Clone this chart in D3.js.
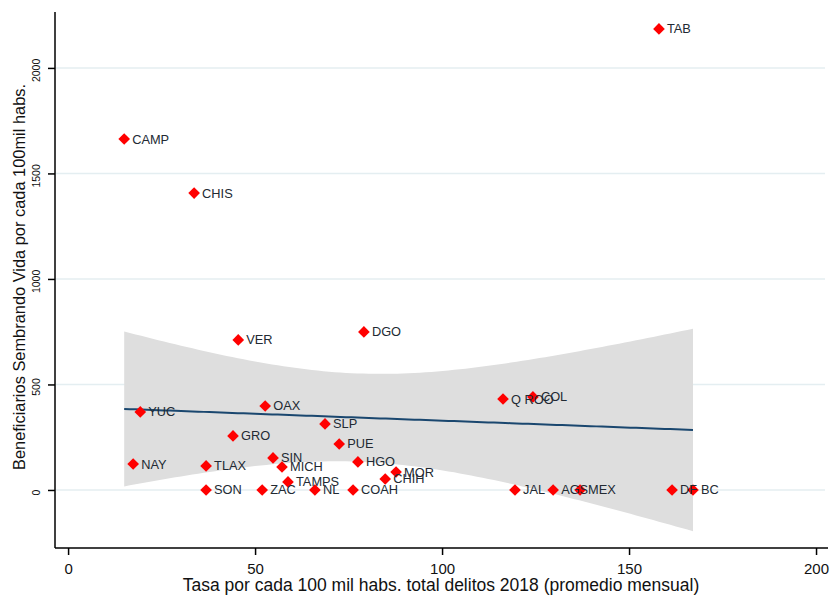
<!DOCTYPE html>
<html>
<head>
<meta charset="utf-8">
<script src="https://cdn.jsdelivr.net/npm/d3@7"></script>
<style>
  html, body { margin: 0; padding: 0; background: #fff; }
  svg { display: block; }
</style>
</head>
<body>
<svg id="chart" width="831" height="596"></svg>
<script>
// State abbreviations
const states = ["TAB","CAMP","CHIS","VER","DGO","OAX","YUC","SLP","GRO","PUE","SIN","NAY","TLAX","MICH","HGO","MOR","CHIH","TAMPS","SON","ZAC","NL","COAH","JAL","AGS","MEX","DF","BC","Q ROO","COL"];
// Crime rate per 100k inhabitants, 2018 monthly average
const delitos = [158.0,15.0,33.7,45.5,79.1,52.7,19.3,68.7,44.1,72.5,54.8,17.4,36.9,57.2,77.5,87.7,84.8,58.8,36.9,51.9,66.0,76.2,119.5,129.7,136.9,161.5,167.1,116.3,124.3];
// Sembrando Vida beneficiaries per 100k inhabitants
const beneficiarios = [2185,1663,1407,711,749,398,370,313,256,218,152,123,114,109,133,85,52,38,0,0,0,0,0,0,0,0,0,431,441];
const xTicks = [0,50,100,150,200];
const yTicks = [0,500,1000,1500,2000];

const svg = d3.select("#chart");
const L = 55, R = 828, T = 12, B = 548;
const x = d3.scaleLinear().domain([-3.5, 203.2]).range([L, R]);
const y = d3.scaleLinear().domain([-275, 2265]).range([B, T]);

// Linear fit with 95% confidence band of the mean prediction
const n = delitos.length;
const xbar = d3.mean(delitos), ybar = d3.mean(beneficiarios);
let sxx = 0, sxy = 0;
for (let i = 0; i < n; i++) { sxx += (delitos[i]-xbar)**2; sxy += (delitos[i]-xbar)*(beneficiarios[i]-ybar); }
const slope = sxy / sxx, intercept = ybar - slope * xbar;
let sse = 0;
for (let i = 0; i < n; i++) sse += (beneficiarios[i] - (intercept + slope*delitos[i]))**2;
const s = Math.sqrt(sse / (n - 2));
const tcrit = 2.0518; // t(0.975, 27)
const [xmin, xmax] = d3.extent(delitos);
const grid = d3.range(0, 101).map(k => xmin + (xmax - xmin) * k / 100);
const band = grid.map(v => {
  const fit = intercept + slope * v;
  const hw = tcrit * s * Math.sqrt(1/n + (v - xbar)**2 / sxx);
  return {x: v, fit, lo: fit - hw, hi: fit + hw};
});

// horizontal gridlines
svg.append("g").selectAll("line").data(yTicks).join("line")
  .attr("x1", L + 1).attr("x2", R - 3)
  .attr("y1", d => y(d)).attr("y2", d => y(d))
  .attr("stroke", "#e4eef1").attr("stroke-width", 1.5);

// confidence band
svg.append("path").datum(band)
  .attr("d", d3.area().x(d => x(d.x)).y0(d => y(d.lo)).y1(d => y(d.hi)))
  .attr("fill", "#dedede");

// fitted line
svg.append("path").datum(band)
  .attr("d", d3.line().x(d => x(d.x)).y(d => y(d.fit)))
  .attr("fill", "none").attr("stroke", "#1a476f").attr("stroke-width", 2);

// points
const pts = states.map((st, i) => ({st, xv: delitos[i], yv: beneficiarios[i]}));
const diamond = d3.symbol().type(d3.symbolSquare).size(68);
svg.append("g").selectAll("path").data(pts).join("path")
  .attr("d", diamond)
  .attr("transform", d => `translate(${x(d.xv)},${y(d.yv)}) rotate(45)`)
  .attr("fill", "#ff0000");

svg.append("g").selectAll("text").data(pts).join("text")
  .attr("x", d => x(d.xv) + 8).attr("y", d => y(d.yv) + 4.5)
  .attr("font-family", "Liberation Sans, Arial, sans-serif")
  .attr("font-size", 12.8).attr("fill", "#222a33")
  .text(d => d.st);

// axes
const xAxis = d3.axisBottom(x).tickValues(xTicks).tickSize(7).tickPadding(8).tickFormat(d3.format("d"));
const gx = svg.append("g").attr("transform", `translate(0,${B})`).call(xAxis);
gx.select(".domain").attr("d", `M${L},0H${R}`).attr("stroke", "#000").attr("stroke-width", 1.5);
gx.selectAll(".tick line").attr("stroke", "#000").attr("stroke-width", 1.5);
gx.selectAll(".tick text").attr("font-family", "Liberation Sans, Arial, sans-serif").attr("font-size", 15).attr("fill", "#111");

const yAxis = d3.axisLeft(y).tickValues(yTicks).tickSize(7).tickPadding(4).tickFormat(d3.format("d"));
const gy = svg.append("g").attr("transform", `translate(${L},0)`).call(yAxis);
gy.select(".domain").attr("d", `M0,${T}V${B}`).attr("stroke", "#000").attr("stroke-width", 1.5);
gy.selectAll(".tick line").attr("stroke", "#000").attr("stroke-width", 1.5);
gy.selectAll(".tick text")
  .attr("font-family", "Liberation Sans Narrow, Liberation Sans, Arial, sans-serif").attr("font-size", 10.5).attr("fill", "#111")
  .attr("text-anchor", "middle").attr("x", 0).attr("dy", 0)
  .attr("transform", "translate(-15,2) rotate(-90)");

// axis titles
svg.append("text").attr("x", 441).attr("y", 591).attr("text-anchor", "middle")
  .attr("font-family", "Liberation Sans, Arial, sans-serif").attr("font-size", 17.5).attr("fill", "#111")
  .text("Tasa por cada 100 mil habs. total delitos 2018 (promedio mensual)");
svg.append("text").attr("transform", "translate(25,277) rotate(-90)").attr("text-anchor", "middle")
  .attr("font-family", "Liberation Sans, Arial, sans-serif").attr("font-size", 16.4).attr("fill", "#111")
  .text("Beneficiarios Sembrando Vida por cada 100mil habs.");
</script>
</body>
</html>
